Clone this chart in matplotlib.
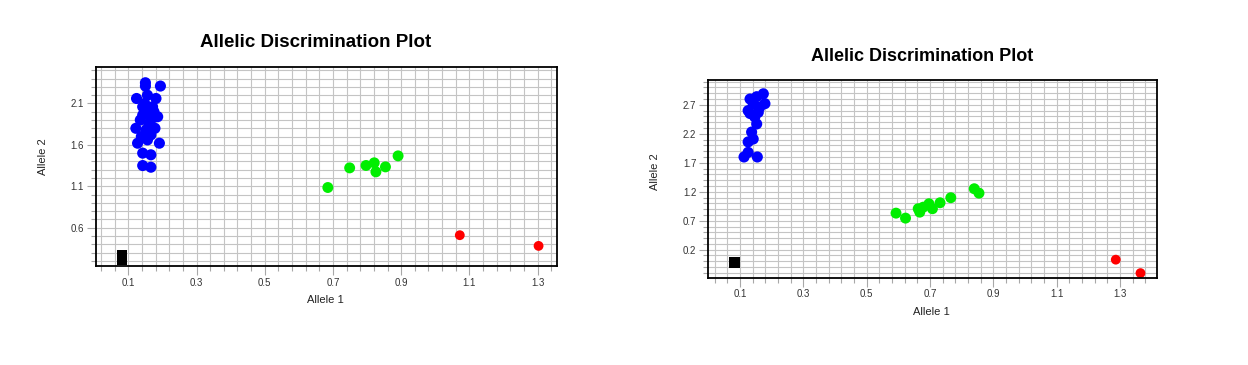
import numpy as np
import matplotlib
matplotlib.use("Agg")
import matplotlib.pyplot as plt
from matplotlib.ticker import FixedLocator, FormatStrFormatter

plt.rcParams['font.family'] = ['Liberation Sans', 'DejaVu Sans']

TITLE = "Allelic Discrimination Plot"
XLABEL = "Allele 1"
YLABEL = "Allele 2"

# ---------------- Plot 1 data ----------------
p1_blue_x = [0.150, 0.150, 0.194, 0.124, 0.156, 0.181, 0.142, 0.171, 0.142, 0.186,
             0.166, 0.122, 0.152, 0.166, 0.127, 0.156, 0.191, 0.142, 0.166, 0.142,
             0.166, 0.150, 0.160, 0.135, 0.175, 0.148, 0.178, 0.138]
p1_blue_y = [2.35, 2.31, 2.31, 2.16, 2.20, 2.16, 2.06, 2.06, 1.96, 1.94,
             1.90, 1.80, 1.78, 1.72, 1.62, 1.66, 1.62, 1.50, 1.48, 1.35,
             1.33, 2.00, 1.85, 1.90, 2.00, 2.10, 1.80, 1.70]
p1_green_x = [0.685, 0.749, 0.797, 0.821, 0.826, 0.854, 0.891]
p1_green_y = [1.085, 1.322, 1.351, 1.383, 1.274, 1.334, 1.467]
p1_red_x = [1.072, 1.303]
p1_red_y = [0.509, 0.380]
p1_ntc_x = [0.081, 0.081]
p1_ntc_y = [0.265, 0.213]
p1_xticks = [0.1, 0.3, 0.5, 0.7, 0.9, 1.1, 1.3]
p1_yticks = [0.6, 1.1, 1.6, 2.1]
p1_xlim = (0.005, 1.357)
p1_ylim = (0.137, 2.54)

# ---------------- Plot 2 data ----------------
p2_blue_x = [0.174, 0.153, 0.132, 0.179, 0.142, 0.163, 0.126, 0.158, 0.132, 0.147,
             0.153, 0.137, 0.142, 0.126, 0.126, 0.113, 0.155]
p2_blue_y = [2.89, 2.84, 2.80, 2.72, 2.72, 2.66, 2.60, 2.57, 2.55, 2.49,
             2.37, 2.23, 2.11, 2.06, 1.88, 1.80, 1.80]
p2_green_x = [0.593, 0.623, 0.663, 0.668, 0.679, 0.697, 0.708, 0.732, 0.766, 0.840, 0.855]
p2_green_y = [0.831, 0.745, 0.907, 0.848, 0.934, 0.993, 0.907, 1.010, 1.097, 1.252, 1.176]
p2_red_x = [1.287, 1.365]
p2_red_y = [0.028, -0.204]
p2_ntc_x = [0.083]
p2_ntc_y = [-0.019]
p2_xticks = [0.1, 0.3, 0.5, 0.7, 0.9, 1.1, 1.3]
p2_yticks = [0.2, 0.7, 1.2, 1.7, 2.2, 2.7]
p2_xlim = (0.0, 1.418)
p2_ylim = (-0.283, 3.12)

BLUE = "#0000ff"
GREEN = "#00ee00"
RED = "#ff0000"
GRID = "#c4c4c4"
TICK = "#a8a8a8"

fig = plt.figure(figsize=(12.48, 3.65), dpi=100)
fig.patch.set_facecolor("white")


def style_axes(ax, xticks, yticks, xlim, ylim):
    ax.set_xlim(*xlim)
    ax.set_ylim(*ylim)
    xminor = np.round(np.arange(0.02, xlim[1] + 1e-9, 0.04), 3)
    yminor = np.round(np.arange(np.ceil(ylim[0] * 10) / 10, ylim[1] + 1e-9, 0.1), 3)
    ax.xaxis.set_major_locator(FixedLocator(xticks))
    ax.yaxis.set_major_locator(FixedLocator(yticks))
    ax.xaxis.set_minor_locator(FixedLocator(xminor))
    ax.yaxis.set_minor_locator(FixedLocator(yminor))
    ax.xaxis.set_major_formatter(FormatStrFormatter('%.1f'))
    ax.yaxis.set_major_formatter(FormatStrFormatter('%.1f'))
    ax.grid(True, which='both', color=GRID, linewidth=0.8)
    ax.set_axisbelow(True)
    ax.tick_params(which='major', direction='out', length=6.5, width=0.8,
                   color=TICK, labelsize=7, labelcolor="#333333", pad=2)
    ax.tick_params(which='minor', direction='out', length=3.5, width=0.8, color=TICK)
    for sp in ax.spines.values():
        sp.set_linewidth(1.3)
        sp.set_color("black")
        sp.set_zorder(5)


# Plot 1
ax1 = fig.add_axes([0.0769, 0.2712, 0.3694, 0.5452])
style_axes(ax1, p1_xticks, p1_yticks, p1_xlim, p1_ylim)
ax1.scatter(p1_blue_x, p1_blue_y, s=64, c=BLUE, edgecolors='none', zorder=3)
ax1.scatter(p1_green_x, p1_green_y, s=62, c=GREEN, edgecolors='none', zorder=3)
ax1.scatter(p1_red_x, p1_red_y, s=50, c=RED, edgecolors='none', zorder=3)
ax1.scatter(p1_ntc_x, p1_ntc_y, s=59, c='black', marker='s', edgecolors='none', zorder=3)

fig.text(0.2532, 0.8822, TITLE, ha='center', va='center', fontsize=13.5, fontweight='bold')
fig.text(0.2604, 0.178, XLABEL, ha='center', va='center', fontsize=8, color="#222222")
fig.text(0.0345, 0.570, YLABEL, ha='center', va='center', rotation=90, fontsize=8, color="#222222")

# Plot 2
ax2 = fig.add_axes([0.5675, 0.2392, 0.3598, 0.5403])
style_axes(ax2, p2_xticks, p2_yticks, p2_xlim, p2_ylim)
ax2.scatter(p2_blue_x, p2_blue_y, s=64, c=BLUE, edgecolors='none', zorder=3)
ax2.scatter(p2_green_x, p2_green_y, s=62, c=GREEN, edgecolors='none', zorder=3)
ax2.scatter(p2_red_x, p2_red_y, s=50, c=RED, edgecolors='none', zorder=3)
ax2.scatter(p2_ntc_x, p2_ntc_y, s=62, c='black', marker='s', edgecolors='none', zorder=3)

fig.text(0.7385, 0.8447, TITLE, ha='center', va='center', fontsize=13, fontweight='bold')
fig.text(0.7466, 0.146, XLABEL, ha='center', va='center', fontsize=8, color="#222222")
fig.text(0.5252, 0.530, YLABEL, ha='center', va='center', rotation=90, fontsize=8, color="#222222")

fig.savefig("out.png", dpi=100, facecolor="white")
